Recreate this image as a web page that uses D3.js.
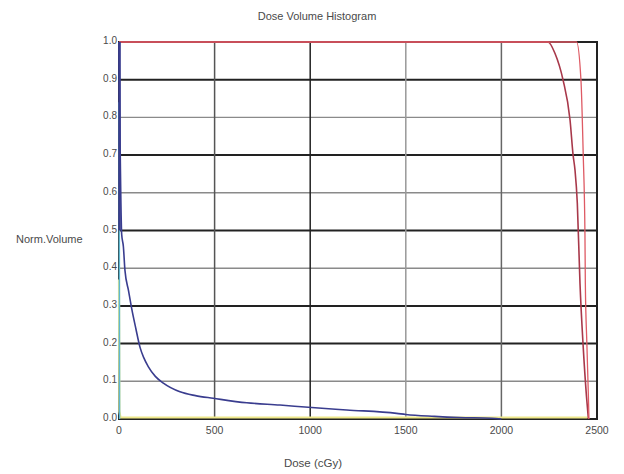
<!DOCTYPE html>
<html>
<head>
<meta charset="utf-8">
<script src="https://cdn.jsdelivr.net/npm/d3@7"></script>
<style>
  body { margin: 0; background: #fff; }
  text { font-family: "Liberation Sans", Arial, sans-serif; fill: #4a4a4a; }
</style>
</head>
<body>
<svg id="chart"></svg>
<script>
// ---- data ----
let xTicks = [0, 500, 1000, 1500, 2000, 2500];
let yTicks = [0.0, 0.1, 0.2, 0.3, 0.4, 0.5, 0.6, 0.7, 0.8, 0.9, 1.0];

// blue structure (dose cGy, norm. volume)
let blueDose = [0, 2, 14, 23, 31, 50, 66, 88, 110, 130, 153, 190, 232, 319, 400, 493, 668, 842, 990, 1191, 1452, 1500, 1650, 1780, 1950, 2000];
let blueVol  = [1.0, 0.9, 0.49, 0.457, 0.395, 0.34, 0.294, 0.24, 0.19, 0.162, 0.139, 0.113, 0.095, 0.072, 0.062, 0.055, 0.043, 0.037, 0.031, 0.024, 0.015, 0.012, 0.007, 0.004, 0.002, 0.0];

// target, dark red
let redDose = [0, 2244, 2280, 2322, 2359, 2375, 2385, 2397, 2411, 2428, 2445, 2455];
let redVol  = [1.0, 1.0, 0.97, 0.9, 0.793, 0.70, 0.66, 0.573, 0.36, 0.19, 0.06, 0.0];

// second target, light red
let pinkDose = [0, 2393, 2416, 2428, 2437, 2439, 2447, 2455, 2458];
let pinkVol  = [1.0, 1.0, 0.9, 0.70, 0.49, 0.36, 0.2, 0.06, 0.0];

// yellow structure
let yellowDose = [0, 2, 8, 2450];
let yellowVol  = [0.37, 0.02, 0.004, 0.004];

// cyan structure
let cyanDose = [0, 1, 3];
let cyanVol  = [0.84, 0.78, 0.0];

let series = [
  { name: "yellow", dose: yellowDose, vol: yellowVol, color: "#eee88a", width: 2.2, curve: d3.curveLinear },
  { name: "cyan", dose: cyanDose, vol: cyanVol, color: "#5fb8d0", width: 1.5, curve: d3.curveLinear },
  { name: "blue", dose: blueDose, vol: blueVol, color: "#3a3d8f", width: 1.6, curve: d3.curveMonotoneX },
  { name: "red", dose: redDose, vol: redVol, color: "#a8384a", width: 1.6, curve: d3.curveMonotoneX },
  { name: "pink", dose: pinkDose, vol: pinkVol, color: "#de5a64", width: 1.3, curve: d3.curveMonotoneX }
];

let width = 624, height = 474;
let svg = d3.select("#chart").attr("width", width).attr("height", height);

let margin = { left: 119, right: 27, top: 42, bottom: 55 };
let x = d3.scaleLinear().domain([0, 2500]).range([margin.left, width - margin.right]);
let y = d3.scaleLinear().domain([0, 1]).range([height - margin.bottom, margin.top]);

// gridline look (thick dark vs thin grey, as in the scan)
let hGridDark = [0.9, 0.7, 0.5, 0.3, 0.2];
let vGridColor = { 500: "#555", 1000: "#222", 1500: "#999", 2000: "#666" };

// horizontal grid
svg.append("g")
  .selectAll("line")
  .data(yTicks.filter(function (d) { return d > 0 && d < 1; }))
  .enter()
  .append("line")
  .attr("x1", x(0))
  .attr("x2", x(2500))
  .attr("y1", function (d) { return y(d); })
  .attr("y2", function (d) { return y(d); })
  .attr("stroke", function (d) { return hGridDark.indexOf(d) >= 0 ? "#222" : "#8a8a8a"; })
  .attr("stroke-width", function (d) { return hGridDark.indexOf(d) >= 0 ? 2 : 1.4; });

// vertical grid
svg.append("g")
  .selectAll("line")
  .data(xTicks.filter(function (d) { return d > 0 && d < 2500; }))
  .enter()
  .append("line")
  .attr("x1", function (d) { return x(d); })
  .attr("x2", function (d) { return x(d); })
  .attr("y1", y(1))
  .attr("y2", y(0))
  .attr("stroke", function (d) { return vGridColor[d]; })
  .attr("stroke-width", 1.5);

// frame
svg.append("rect")
  .attr("x", x(0))
  .attr("y", y(1))
  .attr("width", x(2500) - x(0))
  .attr("height", y(0) - y(1))
  .attr("fill", "none")
  .attr("stroke", "#222")
  .attr("stroke-width", 2);

// curves
series.forEach(function (s) {
  let pts = s.dose.map(function (d, i) { return [d, s.vol[i]]; });
  let line = d3.line()
    .x(function (d) { return x(d[0]); })
    .y(function (d) { return y(d[1]); })
    .curve(s.curve);
  svg.append("path")
    .attr("d", line(pts))
    .attr("fill", "none")
    .attr("stroke", s.color)
    .attr("stroke-width", s.width);
});

// thick blue stroke hugging the left edge at the top
svg.append("line")
  .attr("x1", x(3)).attr("x2", x(3))
  .attr("y1", y(1)).attr("y2", y(0.5))
  .attr("stroke", "#3a3d8f")
  .attr("stroke-width", 2.5);

// tick labels
svg.append("g")
  .selectAll("text")
  .data(yTicks)
  .enter()
  .append("text")
  .attr("x", x(0) - 2)
  .attr("y", function (d) { return y(d); })
  .attr("text-anchor", "end")
  .attr("dy", "0.2em")
  .style("font-size", "10px")
  .text(function (d) { return d.toFixed(1); });

svg.append("g")
  .selectAll("text")
  .data(xTicks)
  .enter()
  .append("text")
  .attr("x", function (d) { return x(d); })
  .attr("y", y(0) + 15)
  .attr("text-anchor", "middle")
  .style("font-size", "10.5px")
  .text(function (d) { return d; });

// titles
svg.append("text")
  .attr("x", 317)
  .attr("y", 20)
  .attr("text-anchor", "middle")
  .style("font-size", "11px")
  .text("Dose Volume Histogram");

svg.append("text")
  .attr("x", 313)
  .attr("y", 467)
  .attr("text-anchor", "middle")
  .style("font-size", "11.5px")
  .text("Dose (cGy)");

svg.append("text")
  .attr("x", 16)
  .attr("y", 243)
  .style("font-size", "11px")
  .text("Norm.Volume");
</script>
</body>
</html>
